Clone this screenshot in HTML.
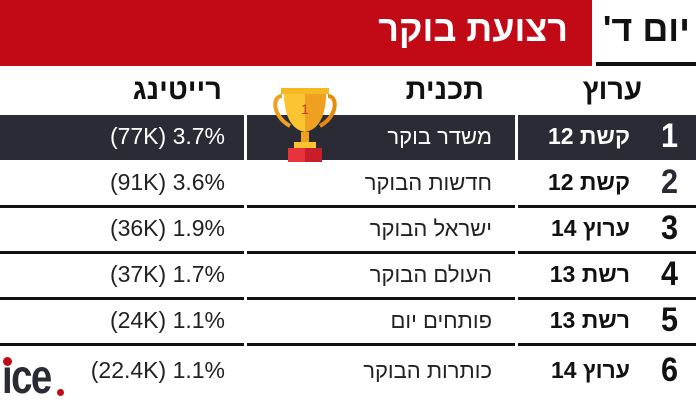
<!DOCTYPE html><html><head><meta charset="utf-8"><style>
body{margin:0;width:696px;height:400px;background:#fff;position:relative;overflow:hidden;font-family:"Liberation Sans","DejaVu Sans",sans-serif;}
.a{position:absolute;}
.t{direction:rtl;white-space:nowrap;}
.ban{left:0;top:0;width:592px;height:66px;background:#c20a17;}
.bt{right:128px;top:8px;color:#fff;font-size:36px;font-weight:bold;}
.day{right:6px;top:8px;color:#111;font-size:36px;font-weight:bold;}
.dl{left:596px;top:62px;width:100px;height:4px;background:#111;}
.h{top:74px;font-size:29px;font-weight:bold;color:#111;}
.line{height:3px;background:#111;}
.num{right:17px;font-size:34px;font-weight:bold;color:#2a2a35;transform:scaleX(0.9);}
.ch{right:66px;font-size:23px;font-weight:bold;color:#111;}
.pr{right:204px;font-size:22px;color:#222;}
.rt{right:471px;font-size:23px;color:#222;direction:ltr;}
</style></head><body>
<div class="a ban"></div>
<div class="a t bt">רצועת בוקר</div>
<div class="a t day">יום ד'</div>
<div class="a dl"></div>
<div class="a t h" style="right:54px">ערוץ</div>
<div class="a t h" style="right:212px">תכנית</div>
<div class="a t h" style="right:474px">רייטינג</div>
<div class="a" style="left:0;top:115px;width:244px;height:45px;background:#2b2b35"></div>
<div class="a" style="left:247px;top:115px;width:268px;height:45px;background:#2b2b35"></div>
<div class="a" style="left:518px;top:115px;width:178px;height:45px;background:#2b2b35"></div>
<div class="a line" style="left:0;top:205px;width:244px"></div><div class="a line" style="left:247px;top:205px;width:268px"></div><div class="a line" style="left:518px;top:205px;width:178px"></div>
<div class="a line" style="left:0;top:251px;width:244px"></div><div class="a line" style="left:247px;top:251px;width:268px"></div><div class="a line" style="left:518px;top:251px;width:178px"></div>
<div class="a line" style="left:0;top:297px;width:244px"></div><div class="a line" style="left:247px;top:297px;width:268px"></div><div class="a line" style="left:518px;top:297px;width:178px"></div>
<div class="a line" style="left:0;top:343px;width:244px"></div><div class="a line" style="left:247px;top:343px;width:268px"></div><div class="a line" style="left:518px;top:343px;width:178px"></div>
<svg class="a" style="left:272px;top:86px" width="66" height="80" viewBox="0 0 66 80">
<path d="M10 10 C0 10 0 30 18 40" stroke="#f0a020" stroke-width="4" fill="none"/>
<path d="M56 10 C66 10 66 30 48 40" stroke="#e88a10" stroke-width="4" fill="none"/>
<rect x="9" y="2" width="48" height="6" fill="#f5b820"/>
<path d="M12 8 H54 C54 30 46 44 33 46 C20 44 12 30 12 8Z" fill="#fbc531"/>
<path d="M33 8 H54 C54 30 46 44 33 46Z" fill="#f0a020"/>
<rect x="29" y="46" width="8" height="12" fill="#f0a020"/>
<rect x="22" y="56" width="22" height="6" fill="#fbc531"/>
<rect x="16" y="62" width="34" height="14" fill="#e8323c"/>
<rect x="33" y="62" width="17" height="14" fill="#c81e2a"/>
<text x="33" y="28" font-size="14" fill="#c0392b" text-anchor="middle" font-family="Liberation Sans">1</text>
</svg>
<div class="a t num" style="top:117px;color:#fff">1</div>
<div class="a t ch" style="top:123px;color:#fff">קשת 12</div>
<div class="a t pr" style="top:124px;color:#fff">משדר בוקר</div>
<div class="a rt" style="top:123px;color:#fff">(77K) 3.7%</div>
<div class="a t num" style="top:163px">2</div><div class="a t ch" style="top:169px">קשת 12</div><div class="a t pr" style="top:170px">חדשות הבוקר</div><div class="a rt" style="top:169px">(91K) 3.6%</div>
<div class="a t num" style="top:209px;color:#111">3</div><div class="a t ch" style="top:215px">ערוץ 14</div><div class="a t pr" style="top:216px">ישראל הבוקר</div><div class="a rt" style="top:215px">(36K) 1.9%</div>
<div class="a t num" style="top:255px;color:#111">4</div><div class="a t ch" style="top:261px">רשת 13</div><div class="a t pr" style="top:262px">העולם הבוקר</div><div class="a rt" style="top:261px">(37K) 1.7%</div>
<div class="a t num" style="top:301px;color:#111">5</div><div class="a t ch" style="top:307px">רשת 13</div><div class="a t pr" style="top:308px">פותחים יום</div><div class="a rt" style="top:307px">(24K) 1.1%</div>
<div class="a t num" style="top:351px;color:#111">6</div><div class="a t ch" style="top:357px">ערוץ 14</div><div class="a t pr" style="top:358px">כותרות הבוקר</div><div class="a rt" style="top:357px">(22.4K) 1.1%</div>
<div class="a" style="left:2px;top:354px;font-size:48px;font-weight:900;color:#2b2b35;letter-spacing:-2px;transform:scaleX(0.8);transform-origin:left;line-height:48px">ice</div>
<div class="a" style="left:3px;top:357px;width:9px;height:9px;border-radius:50%;background:#c20a17"></div>
<div class="a" style="left:57px;top:389px;width:7px;height:7px;border-radius:50%;background:#c20a17"></div>
</body></html>
